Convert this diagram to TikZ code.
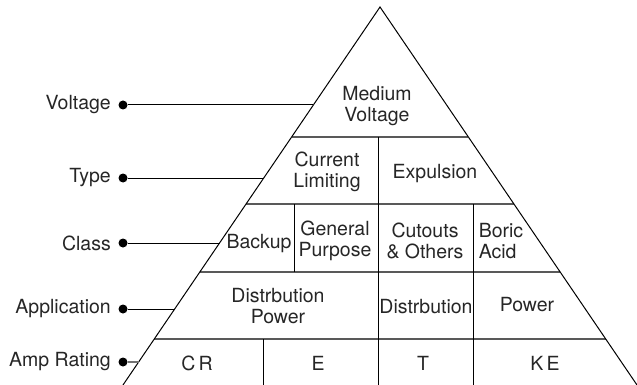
\documentclass[tikz,border=0pt]{standalone}
\usepackage{fontspec}
\setmainfont{TeX Gyre Heros}
\begin{document}
\begin{tikzpicture}[x=1pt,y=-1pt,
  lbl/.style={font=\fontsize{19.5}{20.5}\selectfont, text=black!85, inner sep=0pt, align=center},
  side/.style={font=\fontsize{19.5}{20.5}\selectfont, text=black!85, inner sep=0pt, anchor=east},
  dotn/.style={circle, fill=black, inner sep=0pt, minimum size=9pt},
  hline/.style={draw=black!65, line width=1.5pt},
  vline/.style={draw=black, line width=1pt},
  edge/.style={draw=black, line width=1pt},
  leader/.style={draw=black, line width=1pt}]
\useasboundingbox (0,0) rectangle (637,385);
% triangle edges
\coordinate (apex) at (380,7);
\coordinate (bl) at (123,385);
\coordinate (br) at (637,385);
% row lines
\draw[hline] (291.6,137) -- (468.4,137);
\draw[hline] (246.0,204) -- (514.0,204);
\draw[hline] (199.8,272) -- (560.2,272);
\draw[hline] (154.2,339) -- (605.8,339);
\draw[edge] (bl) -- (apex) -- (br);
% verticals
\draw[vline] (378,137) -- (378,204);
\draw[vline] (294,204) -- (294,272);
\draw[vline] (378,204) -- (378,272);
\draw[vline] (473,204) -- (473,272);
\draw[vline] (378,272) -- (378,339);
\draw[vline] (473,272) -- (473,339);
\draw[vline] (263,339) -- (263,385);
\draw[vline] (378,339) -- (378,385);
\draw[vline] (473,339) -- (473,385);
% cell texts
\node[lbl] (mv) at (377,106) {Medium\\Voltage};
\node[lbl] (cl) at (327,172) {Current\\Limiting};
\node[lbl] (ex) at (435,174) {Expulsion};
\node[lbl] (bu) at (259,244) {Backup};
\node[lbl] (gp) at (335,241) {General\\Purpose};
\node[lbl] (co) at (425,241) {Cutouts\\\& Others};
\node[lbl, align=left] (ba) at (501,241) {Boric\\Acid};
\node[lbl] (dp) at (278,306) {Distrbution\\Power};
\node[lbl] (di) at (426,307) {Distrbution};
\node[lbl] (po) at (527,305) {Power};
\node[lbl] (cr) at (197,363) {C\,R};
\node[lbl] (e) at (318,363) {E};
\node[lbl] (t) at (423,363) {T};
\node[lbl] (ke) at (545,363) {K\,E};
% side labels
\node[side] (lv) at (111,105) {Voltage};
\node[side] (lt) at (111,178) {Type};
\node[side] (lc) at (111,243) {Class};
\node[side] (la) at (111,309) {Application};
\node[side] (lr) at (111,362) {Amp Rating};
% dots
\node[dotn] (dv) at (123,105) {};
\node[dotn] (dt) at (123,178) {};
\node[dotn] (dc) at (123,243) {};
\node[dotn] (da) at (123,309) {};
\node[dotn] (dr) at (123,362) {};
% edge points
\coordinate (ev) at (313.4,105);
\coordinate (et) at (263.7,178);
\coordinate (ec) at (219.5,243);
\coordinate (ea) at (174.6,309);
\coordinate (er) at (138.6,362);
\draw[leader] (dv) -- (ev);
\draw[leader] (dt) -- (et);
\draw[leader] (dc) -- (ec);
\draw[leader] (da) -- (ea);
\draw[leader, draw=black!55, line width=1.3pt] (dr) -- (er);
\end{tikzpicture}
\end{document}
